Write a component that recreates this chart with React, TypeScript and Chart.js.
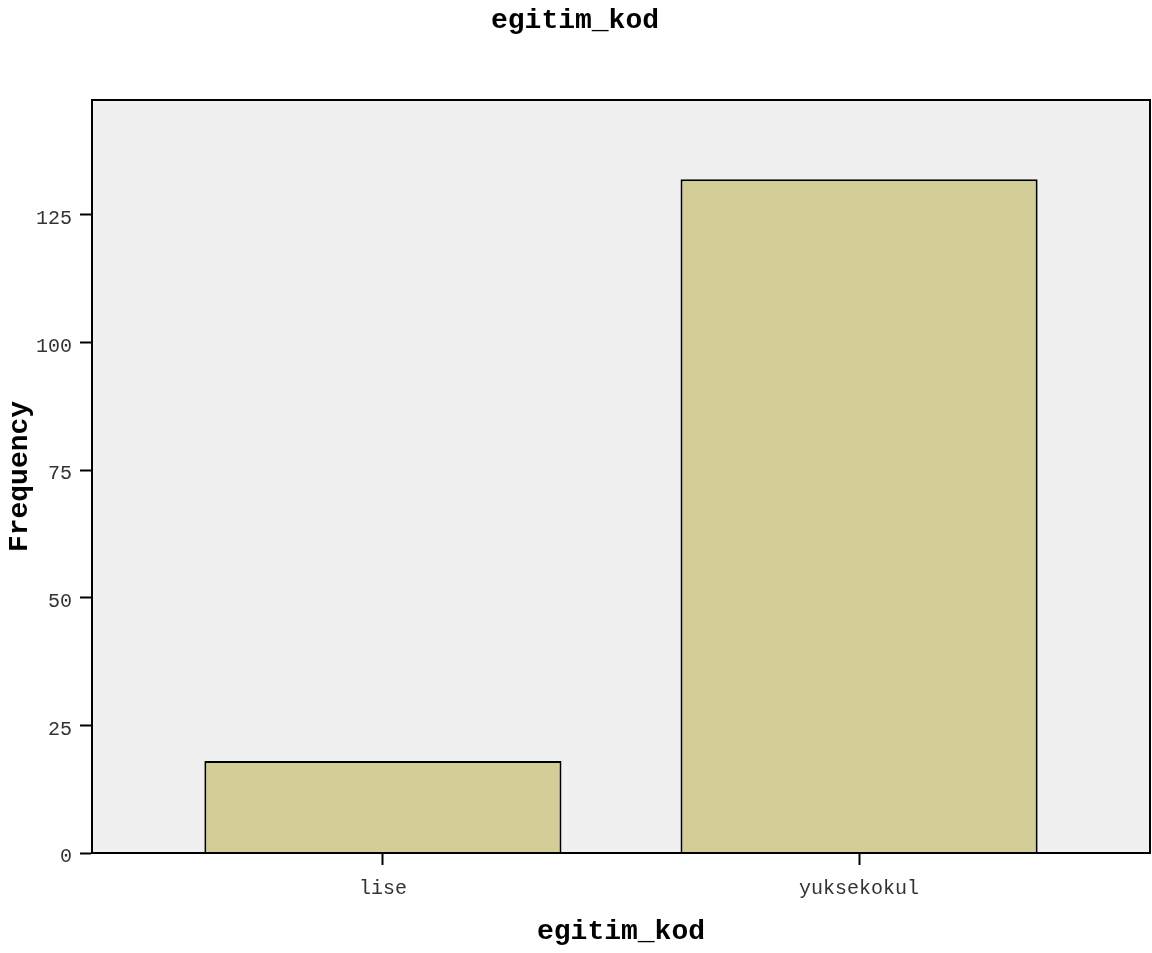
import React, { useEffect, useRef } from "react";
import { Chart, registerables } from "chart.js";

Chart.register(...registerables);

const categories = ["lise", "yuksekokul"];
const frequencies = [18, 132];
const yTickStep = 25;
const yMax = 147.5;
const xMin = -0.611;
const xMax = 1.611;
const chartTitle = "egitim_kod";
const xTitle = "egitim_kod";
const yTitle = "Frequency";

const MONO = "'Liberation Mono', 'Courier New', monospace";

const framePlugin = {
  id: "framePlugin",
  beforeDraw(chart: any) {
    const { ctx, chartArea } = chart;
    ctx.save();
    ctx.fillStyle = "#F0F0F0";
    ctx.fillRect(chartArea.left, chartArea.top, chartArea.right - chartArea.left, chartArea.bottom - chartArea.top);
    ctx.restore();
  },
  afterDraw(chart: any) {
    const { ctx, chartArea } = chart;
    ctx.save();
    ctx.strokeStyle = "#000";
    ctx.lineWidth = 2;
    ctx.strokeRect(chartArea.left, chartArea.top, chartArea.right - chartArea.left, chartArea.bottom - chartArea.top);
    ctx.restore();
  },
};

export default function App() {
  const ref = useRef<HTMLCanvasElement | null>(null);
  useEffect(() => {
    if (!ref.current) return;
    const chart = new Chart(ref.current, {
      type: "bar",
      data: {
        datasets: [
          {
            data: frequencies.map((v, i) => ({ x: i, y: v })),
            backgroundColor: "#D3CE98",
            borderColor: "#000",
            borderWidth: 2,
            categoryPercentage: 0.75,
            barPercentage: 1,
          },
        ],
      },
      options: {
        responsive: false,
        animation: false,
        layout: { padding: { left: 0, right: 2, top: 0, bottom: 0 } },
        plugins: {
          legend: { display: false },
          tooltip: { enabled: false },
          title: {
            display: true,
            text: chartTitle,
            color: "#000",
            font: { family: MONO, size: 28, weight: "bold" },
            padding: { top: 4, bottom: 62.4 },
          },
        },
        scales: {
          x: {
            type: "linear",
            min: xMin,
            max: xMax,
            offset: false,
            afterBuildTicks: (scale: any) => {
              scale.ticks = categories.map((_, i) => ({ value: i }));
            },
            afterFit: (scale: any) => {
              scale.height = 100;
            },
            ticks: {
              callback: (v: any) => categories[Math.round(Number(v))] ?? "",
              color: "#333",
              font: { family: MONO, size: 20 },
              padding: 12,
              maxRotation: 0,
              autoSkip: false,
            },
            grid: {
              offset: false,
              drawOnChartArea: false,
              drawTicks: true,
              tickLength: 12,
              tickWidth: 2,
              tickColor: "#000",
            },
            border: { display: true, color: "#000", width: 2 },
            title: {
              display: true,
              text: xTitle,
              color: "#000",
              font: { family: MONO, size: 28, weight: "bold" },
              padding: { top: 0, bottom: 4 },
            },
          },
          y: {
            type: "linear",
            min: 0,
            max: yMax,
            afterFit: (scale: any) => {
              scale.width = 92;
            },
            ticks: {
              stepSize: yTickStep,
              includeBounds: false,
              color: "#333",
              font: { family: MONO, size: 20 },
              padding: 8,
              labelOffset: 4,
            },
            grid: {
              drawOnChartArea: false,
              drawTicks: true,
              tickLength: 12,
              tickWidth: 2,
              tickColor: "#000",
            },
            border: { display: true, color: "#000", width: 2 },
            title: {
              display: true,
              text: yTitle,
              color: "#000",
              font: { family: MONO, size: 28, weight: "bold" },
              padding: { top: 3, bottom: 0 },
            },
          },
        },
      } as any,
      plugins: [framePlugin],
    });
    return () => chart.destroy();
  }, []);
  return (
    <div style={{ position: "absolute", left: 0, top: 0, width: 1152, height: 953, background: "#fff" }}>
      <canvas ref={ref} width={1152} height={953} style={{ display: "block" }} />
    </div>
  );
}
